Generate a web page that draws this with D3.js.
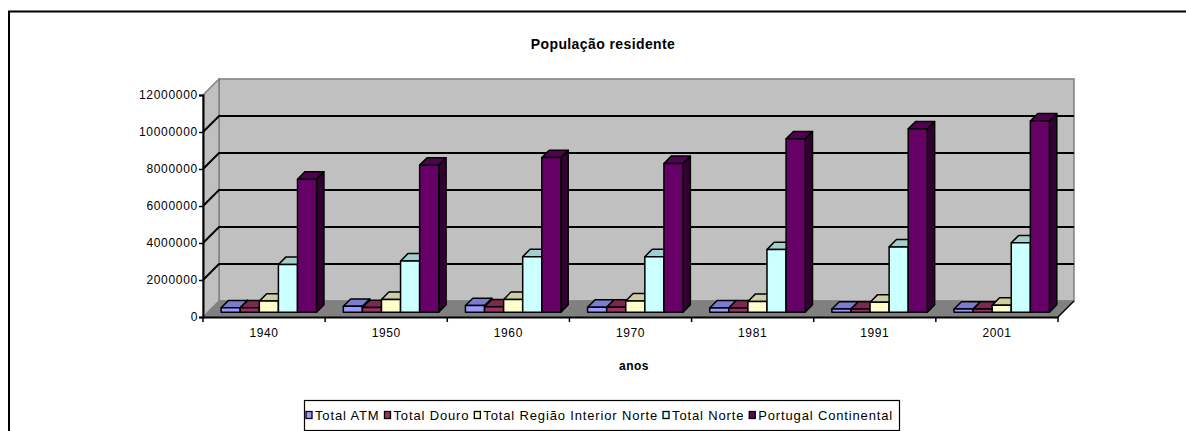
<!DOCTYPE html>
<html>
<head>
<meta charset="utf-8">
<script src="https://cdn.jsdelivr.net/npm/d3@7"></script>
<style>
  body { margin: 0; background: #fff; }
  text { font-family: "Liberation Sans", Arial, sans-serif; fill: #000; }
</style>
</head>
<body>
<div id="viz"></div>
<script>
var categories = ['1940', '1950', '1960', '1970', '1981', '1991', '2001'];
var series = ['Total ATM', 'Total Douro', 'Total Região Interior Norte', 'Total Norte', 'Portugal Continental'];
var seriesColors = ['#9999ff', '#993366', '#ffffcc', '#ccffff', '#660066'];

var totalATM = [240000, 320000, 360000, 270000, 230000, 170000, 170000];
var totalDouro = [240000, 250000, 290000, 270000, 230000, 170000, 170000];
var totalRegiaoInteriorNorte = [600000, 690000, 690000, 610000, 580000, 540000, 380000];
var totalNorte = [2580000, 2770000, 3000000, 3000000, 3390000, 3530000, 3750000];
var portugalContinental = [7190000, 7950000, 8360000, 8040000, 9370000, 9910000, 10340000];

var yTicks = [0, 2000000, 4000000, 6000000, 8000000, 10000000, 12000000];

var seriesValues = [totalATM, totalDouro, totalRegiaoInteriorNorte, totalNorte, portugalContinental];

var width = 1186, height = 431;
var plot = {left: 203, right: 1058, top: 95, bottom: 317};
var depth = {x: 16, y: -16};      // floor / wall depth
var barFront = 0.3, barDepth = 0.46;

var svg = d3.select('#viz')
  .append('svg')
  .attr('width', width)
  .attr('height', height);

// outer chart border (runs off the right/bottom edge)
svg.append('rect')
  .attr('x', 9).attr('y', 11.5)
  .attr('width', 1200).attr('height', 440)
  .attr('fill', 'none')
  .attr('stroke', '#000')
  .attr('stroke-width', 2);

var xScale = d3.scaleBand()
  .domain(categories)
  .range([plot.left, plot.right]);

var xSub = d3.scaleBand()
  .domain(series)
  .range([0, xScale.bandwidth()])
  .paddingOuter(0.7);

var yScale = d3.scaleLinear()
  .domain([0, d3.max(yTicks)])
  .range([plot.bottom, plot.top]);

function pts(a) { return a.map(function(p) { return p.join(','); }).join(' '); }

// back wall
svg.append('rect')
  .attr('x', plot.left + depth.x)
  .attr('y', plot.top + depth.y)
  .attr('width', plot.right - plot.left)
  .attr('height', plot.bottom - plot.top)
  .attr('fill', '#c0c0c0')
  .attr('stroke', '#808080')
  .attr('stroke-width', 1.5);

// side wall
svg.append('polygon')
  .attr('points', pts([
    [plot.left, plot.top], [plot.left + depth.x, plot.top + depth.y],
    [plot.left + depth.x, plot.bottom + depth.y], [plot.left, plot.bottom]]))
  .attr('fill', '#c0c0c0')
  .attr('stroke', '#808080')
  .attr('stroke-width', 1.5);

// floor
svg.append('polygon')
  .attr('points', pts([
    [plot.left, plot.bottom], [plot.left + depth.x, plot.bottom + depth.y],
    [plot.right + depth.x, plot.bottom + depth.y], [plot.right, plot.bottom]]))
  .attr('fill', '#808080')
  .attr('stroke', '#808080')
  .attr('stroke-width', 1);

svg.append('line')
  .attr('x1', plot.right).attr('y1', plot.bottom)
  .attr('x2', plot.right + depth.x).attr('y2', plot.bottom + depth.y)
  .attr('stroke', '#000').attr('stroke-width', 1.5);

// gridlines on walls
var gridTicks = yTicks.slice(1, yTicks.length - 1);
var grid = svg.append('g').attr('stroke', '#000').attr('stroke-width', 2).attr('fill', 'none');
grid.selectAll('polyline').data(gridTicks)
  .enter().append('polyline')
  .attr('points', function(d) {
    var y = yScale(d);
    return pts([[plot.left, y], [plot.left + depth.x, y + depth.y], [plot.right + depth.x, y + depth.y]]);
  });

// bars
var bars = [];
categories.forEach(function(c, ci) {
  series.forEach(function(s, si) {
    bars.push({cat: c, s: s, i: si, value: seriesValues[si][ci]});
  });
});

var fx = barFront * depth.x, fy = barFront * depth.y;
var bx = barDepth * depth.x, by = barDepth * depth.y;
var bw = xSub.bandwidth();

var barG = svg.selectAll('g.bar').data(bars)
  .enter().append('g')
  .attr('class', 'bar')
  .attr('stroke', '#000')
  .attr('stroke-width', 1.5)
  .attr('stroke-linejoin', 'round');

barG.each(function(d) {
  var g = d3.select(this);
  var x0 = xScale(d.cat) + xSub(d.s) + fx;
  var yt = yScale(d.value) + fy;
  var yb = yScale(0) + fy;
  var col = d3.color(seriesColors[d.i]);
  g.append('polygon')
    .attr('points', pts([[x0 + bw, yt], [x0 + bw + bx, yt + by], [x0 + bw + bx, yb + by], [x0 + bw, yb]]))
    .attr('fill', col.darker(2));
  g.append('polygon')
    .attr('points', pts([[x0, yt], [x0 + bx, yt + by], [x0 + bw + bx, yt + by], [x0 + bw, yt]]))
    .attr('fill', col.darker(0.6));
  g.append('rect')
    .attr('x', x0).attr('y', yt)
    .attr('width', bw).attr('height', yb - yt)
    .attr('fill', col);
});

// axes
var yAxis = d3.axisLeft(yScale)
  .tickValues(yTicks)
  .tickFormat(d3.format('d'))
  .tickSize(4)
  .tickPadding(1);

var yGuide = svg.append('g')
  .attr('transform', 'translate(' + plot.left + ',0)')
  .call(yAxis);
yGuide.select('.domain').attr('stroke-width', 2);
yGuide.selectAll('.tick line').attr('stroke-width', 1.5);
yGuide.selectAll('text')
  .style('font-size', '12px')
  .style('letter-spacing', '0.7px')
  .style('font-family', '"Liberation Sans", Arial, sans-serif');

var xAxis = d3.axisBottom(xScale).tickSize(0).tickPadding(11);
var xGuide = svg.append('g')
  .attr('transform', 'translate(0,' + plot.bottom + ')')
  .call(xAxis);
xGuide.select('.domain').attr('stroke-width', 2);
xGuide.selectAll('text')
  .style('font-size', '12px')
  .style('letter-spacing', '0.6px')
  .style('font-family', '"Liberation Sans", Arial, sans-serif');

var bounds = categories.map(function(c) { return xScale(c); }).concat([plot.right]);
xGuide.selectAll('line.sep').data(bounds)
  .enter().append('line')
  .attr('class', 'sep')
  .attr('x1', function(d) { return d; }).attr('x2', function(d) { return d; })
  .attr('y1', 0).attr('y2', 5)
  .attr('stroke', '#000').attr('stroke-width', 1.5);

// titles
svg.append('text')
  .attr('x', 603).attr('y', 49)
  .attr('text-anchor', 'middle')
  .style('font-size', '14px')
  .style('font-weight', 'bold')
  .style('letter-spacing', '0.4px')
  .text('População residente');

svg.append('text')
  .attr('x', 634).attr('y', 370)
  .attr('text-anchor', 'middle')
  .style('font-size', '12px')
  .style('font-weight', 'bold')
  .style('letter-spacing', '0.5px')
  .text('anos');

// legend
var legend = svg.append('g');
legend.append('rect')
  .attr('x', 304.5).attr('y', 400.5)
  .attr('width', 595).attr('height', 30)
  .attr('fill', '#fff')
  .attr('stroke', '#000')
  .attr('stroke-width', 1.2);

var lx = 306;
series.forEach(function(s, i) {
  legend.append('rect')
    .attr('x', lx).attr('y', 411.5)
    .attr('width', 6).attr('height', 7)
    .attr('fill', seriesColors[i])
    .attr('stroke', '#000')
    .attr('stroke-width', 1.3);
  var t = legend.append('text')
    .attr('x', lx + 9).attr('y', 420)
    .style('font-size', '13px')
    .style('letter-spacing', '0.85px')
    .text(s);
  lx += 9 + t.node().getComputedTextLength() + 5;
});
</script>
</body>
</html>
